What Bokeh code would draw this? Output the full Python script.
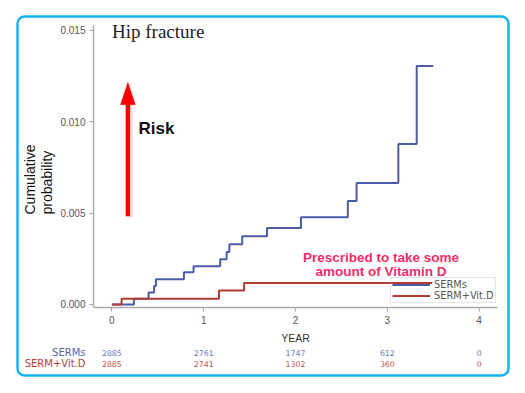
import math
from bokeh.plotting import figure
from bokeh.core.properties import value
from bokeh.models import (Label, LabelSet, ColumnDataSource, FixedTicker, PrintfTickFormatter,
                          BoxAnnotation, PolyAnnotation, Arrow, Legend, LegendItem)
from bokeh.embed import file_html
from bokeh.resources import INLINE

# ---------------- data ----------------
serm_t = [0, 0.24, 0.40, 0.46, 0.48, 0.785, 0.89, 1.18, 1.25, 1.28, 1.42, 1.69, 2.06, 2.57, 2.665, 3.12, 3.32, 3.50]
serm_p = [0, 0.00031, 0.00066, 0.00101, 0.00138, 0.00176, 0.00209, 0.00247, 0.00287, 0.00329, 0.00373,
          0.00418, 0.00477, 0.00566, 0.00664, 0.00877, 0.01303, 0.01303]
vitd_t = [0, 0.106, 1.167, 1.44, 3.49]
vitd_p = [0, 0.00031, 0.000765, 0.00118, 0.00118]

x_ticks = [0, 1, 2, 3, 4]
y_ticks = [0, 0.005, 0.010, 0.015]
risk_serm = ["2885", "2761", "1747", "612", "0"]
risk_vitd = ["2885", "2741", "1302", "360", "0"]
series_names = ["SERMs", "SERM+Vit.D"]

BLUE = "#4b5ba6"
RED = "#b23b33"

# ---------------- geometry (page pixels) ----------------
W, H = 515, 385
FX0, FX1 = 93, 497      # axis extents, page px
FY0, FY1 = 25, 307
XR = (-0.2, 4.2)
YR = (-0.000165, 0.01525)

def dx(px):
    return XR[0] + (px - FX0) / (FX1 - FX0) * (XR[1] - XR[0])

def dy(py):
    return YR[0] + (FY1 - py) / (FY1 - FY0) * (YR[1] - YR[0])

p = figure(width=W, height=H, x_range=(dx(0), dx(W)), y_range=(dy(H), dy(0)), title=None,
           output_backend="svg", toolbar_location=None,
           min_border_left=0, min_border_right=0, min_border_top=0, min_border_bottom=0)
p.outline_line_color = None
p.grid.grid_line_color = None
p.background_fill_color = "white"
p.border_fill_color = "white"

for ax in (p.xaxis[0], p.yaxis[0]):
    ax.axis_line_color = "#aaaaaa"
    ax.axis_line_width = 1.5
    ax.major_tick_line_color = "#aaaaaa"
    ax.major_tick_line_width = 1.2
    ax.major_tick_out = 4
    ax.major_tick_in = 0
    ax.minor_tick_line_color = None
    ax.major_label_text_font = "Liberation Sans"
    ax.major_label_text_font_size = "10px"
    ax.major_label_text_color = "#555555"
    ax.major_label_standoff = 4

p.xaxis.ticker = FixedTicker(ticks=x_ticks)
p.yaxis.ticker = FixedTicker(ticks=y_ticks)
p.yaxis.formatter = PrintfTickFormatter(format="%.3f")
p.xaxis.fixed_location = YR[0]
p.xaxis.bounds = XR
p.yaxis.fixed_location = XR[0]
p.yaxis.bounds = YR
p.xaxis.axis_label = "YEAR"
p.xaxis.axis_label_text_font = "Liberation Sans"
p.xaxis.axis_label_text_font_size = "10.5px"
p.xaxis.axis_label_text_font_style = "normal"
p.xaxis.axis_label_text_color = "#333333"
p.xaxis.axis_label_standoff = 5

# curves
r1 = p.step(serm_t, serm_p, mode="after", line_color=BLUE, line_width=2)
r2 = p.step(vitd_t, vitd_p, mode="after", line_color=RED, line_width=2)

legend = Legend(items=[LegendItem(label=series_names[0], renderers=[r1]),
                       LegendItem(label=series_names[1], renderers=[r2])],
                location=(390, H - 303), margin=0, padding=1, spacing=0,
                label_height=11, glyph_height=11, glyph_width=38, label_standoff=4,
                label_text_font="DejaVu Sans", label_text_font_size="9.8px",
                label_text_color="#555555", border_line_color="#cccccc",
                background_fill_alpha=0)
p.add_layout(legend)

# outer rounded frame
p.add_layout(BoxAnnotation(left=dx(17), right=dx(508), top=dy(16), bottom=dy(375),
                           fill_alpha=0, line_color="#19b3f0", line_alpha=1, line_width=2.5,
                           border_radius=7))

# title
p.add_layout(Label(x=dx(111.5), y=dy(31), text="Hip fracture", text_font="Liberation Serif",
                   text_font_size="19px", text_color="#222222", text_baseline="middle"))

# risk arrow
ax_x = dx(127.4)
p.add_layout(Arrow(x_start=dx(129), y_start=dy(217), x_end=dx(129), y_end=dy(100), end=None,
                   line_color="#888888", line_alpha=0.25, line_width=6))
p.add_layout(Arrow(x_start=ax_x, y_start=dy(215.7), x_end=ax_x, y_end=dy(100), end=None,
                   line_color="#ff0000", line_width=4.5))
p.add_layout(PolyAnnotation(xs=[dx(119.9), dx(127.4), dx(134.9)], ys=[dy(104.3), dy(81.7), dy(104.3)],
                            fill_color="#ff0000", fill_alpha=1, line_color="#ff0000", line_width=1))
p.add_layout(Label(x=dx(138), y=dy(127.5), text="Risk", text_font="Liberation Sans",
                   text_font_style="bold", text_font_size="17px", text_color="#111111",
                   text_baseline="middle"))

PINK = "#ef2c6c"
for txt, yy in (("Prescribed to take some", 256.7), ("amount of Vitamin D", 271)):
    p.add_layout(Label(x=dx(380.5), y=dy(yy), text=txt, text_font="Liberation Sans",
                       text_font_style="bold", text_font_size="13.5px", text_color=PINK,
                       text_align="center", text_baseline="middle"))

# y-axis title
for txt, xx in (("Cumulative", 29), ("probability", 46)):
    p.add_layout(Label(x=dx(xx), y=dy(214), text=txt, angle=math.pi / 2,
                       text_font="Liberation Sans", text_font_size="14px", text_color="#111111",
                       text_align="left", text_baseline="middle"))

# number-at-risk table
for name, col, yy in ((series_names[0], "#5565ad", 352.3), (series_names[1], "#b5413b", 363.3)):
    p.add_layout(Label(x=dx(85), y=dy(yy), text=name, text_font="DejaVu Sans",
                       text_font_size="10px", text_color=col, text_align="right",
                       text_baseline="middle"))

src1 = ColumnDataSource(dict(x=x_ticks, y=[dy(352.3)] * len(x_ticks), t=risk_serm))
src2 = ColumnDataSource(dict(x=x_ticks, y=[dy(363.3)] * len(x_ticks), t=risk_vitd))
for src, col in ((src1, "#6c79b9"), (src2, "#c0524a")):
    p.add_layout(LabelSet(x="x", y="y", text="t", source=src, text_font=value("DejaVu Sans"),
                          text_font_size=value("7.8px"), text_color=col, text_align="center",
                          text_baseline="middle"))

open("out.html", "w").write(file_html(p, INLINE))
